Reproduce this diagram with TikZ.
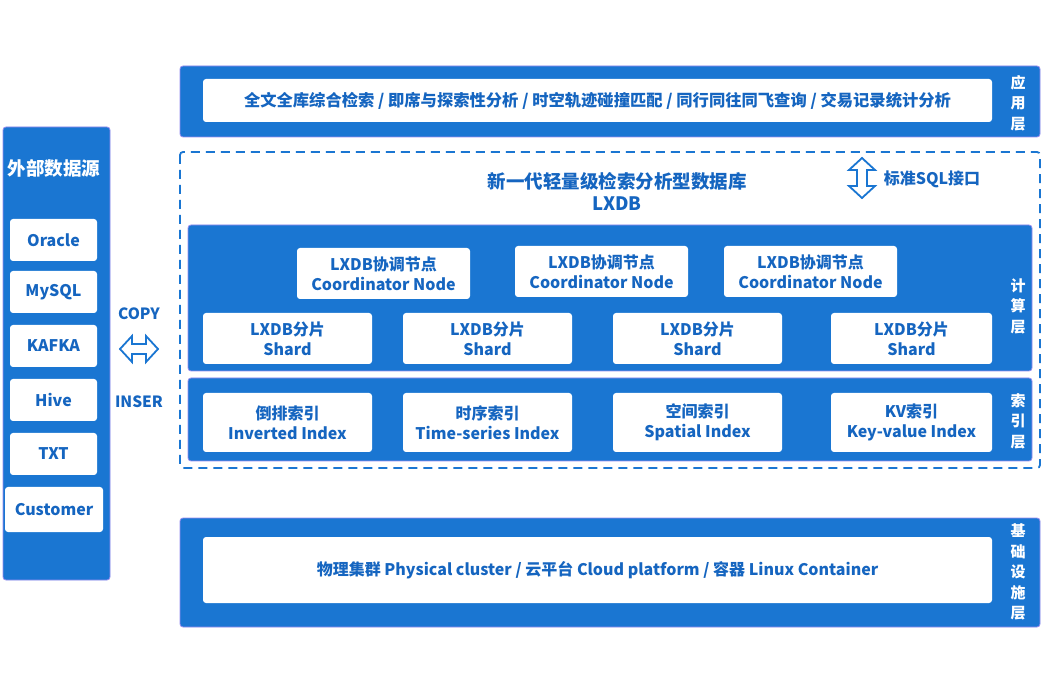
\documentclass[tikz,border=0pt]{standalone}
\usepackage{fontspec}
\setmainfont{Noto Sans CJK SC}
\definecolor{lxblue}{RGB}{26,118,210}
\definecolor{lxtext}{RGB}{21,101,192}
\definecolor{lxedge}{RGB}{150,140,240}
\begin{document}
\begin{tikzpicture}[x=1pt,y=-1pt,
  panel/.style={draw=lxedge,line width=0.8pt,fill=lxblue,rounded corners=3pt},
  wbox/.style={draw=none,fill=white,rounded corners=3pt,text=lxtext,font=\bfseries\fontsize{16}{20}\selectfont,align=center,inner sep=0pt},
  side/.style={text=white,font=\bfseries\fontsize{15}{20.5}\selectfont,align=center,inner sep=0pt},
  hollow/.style={draw=lxblue,line width=1.8pt,fill=white,line join=miter},
  btext/.style={text=lxtext,font=\bfseries\fontsize{15.5}{18}\selectfont,align=center,inner sep=0pt}]
\useasboundingbox (0,0) rectangle (1050,700);
\fill[white] (0,0) rectangle (1050,700);

% left panel
\node[panel,minimum width=107,minimum height=453,inner sep=0pt] (src) at (56.5,353.5) {};
\node[text=white,font=\bfseries\fontsize{18.5}{22}\selectfont] (srct) at (54,168) {外部数据源};
\node[wbox,minimum width=87,minimum height=42] (ora) at (53.5,240) {Oracle};
\node[wbox,minimum width=87,minimum height=42] (mys) at (53.5,292) {MySQL};
\node[wbox,minimum width=87,minimum height=42] (kaf) at (53.5,346) {KAFKA};
\node[wbox,minimum width=87,minimum height=42] (hiv) at (53.5,400) {Hive};
\node[wbox,minimum width=87,minimum height=42] (txt) at (53.5,454) {TXT};
\node[wbox,minimum width=98,minimum height=45] (cus) at (54,509.5) {Customer};

% copy / insert arrow
\node[btext] (copy) at (139,314) {COPY};
\node[btext] (inser) at (139,402) {INSER};
\draw[hollow] (120,349) -- (132,336) -- (132,344) -- (146,344) -- (146,336) -- (158,349) -- (146,362) -- (146,354) -- (132,354) -- (132,362) -- cycle;

% application layer
\node[panel,minimum width=860,minimum height=71,inner sep=0pt] (app) at (610,101.5) {};
\node[wbox,minimum width=789,minimum height=43,font=\bfseries\fontsize{16.3}{19}\selectfont] (appt) at (597.5,100.5) {全文全库综合检索 / 即席与探索性分析 / 时空轨迹碰撞匹配 / 同行同往同飞查询 / 交易记录统计分析};
\node[side] (appl) at (1018,103) {应\\用\\层};

% dashed DB frame
\draw[lxblue,line width=1.8pt,dash pattern=on 9pt off 6pt,rounded corners=3pt] (180,152) rectangle (1040,468);
\node[btext,font=\bfseries\fontsize{18.5}{22}\selectfont] (db) at (617,191) {新一代轻量级检索分析型数据库\\LXDB};
\draw[hollow] (862,158) -- (875,170) -- (867,170) -- (867,186) -- (875,186) -- (862,198) -- (849,186) -- (857,186) -- (857,170) -- (849,170) -- cycle;
\node[btext,font=\bfseries\fontsize{16}{18}\selectfont] (sql) at (932,179) {标准SQL接口};

% compute layer
\node[panel,minimum width=844,minimum height=146,inner sep=0pt] (comp) at (610,298) {};
\node[side] (compl) at (1018,306) {计\\算\\层};
\node[wbox,minimum width=173,minimum height=51] (c1) at (383.5,273.5) {LXDB协调节点\\Coordinator Node};
\node[wbox,minimum width=173,minimum height=51] (c2) at (601.5,271.5) {LXDB协调节点\\Coordinator Node};
\node[wbox,minimum width=173,minimum height=51] (c3) at (810.5,271.5) {LXDB协调节点\\Coordinator Node};
\node[wbox,minimum width=169,minimum height=51] (s1) at (287.5,338.5) {LXDB分片\\Shard};
\node[wbox,minimum width=169,minimum height=51] (s2) at (487.5,338.5) {LXDB分片\\Shard};
\node[wbox,minimum width=169,minimum height=51] (s3) at (697.5,338.5) {LXDB分片\\Shard};
\node[wbox,minimum width=161,minimum height=51] (s4) at (911.5,338.5) {LXDB分片\\Shard};

% index layer
\node[panel,minimum width=844,minimum height=83,inner sep=0pt] (idx) at (610,419.5) {};
\node[side] (idxl) at (1018,421) {索\\引\\层};
\node[wbox,minimum width=169,minimum height=59] (i1) at (287.5,422.5) {倒排索引\\Inverted Index};
\node[wbox,minimum width=169,minimum height=59] (i2) at (487.5,422.5) {时序索引\\Time-series Index};
\node[wbox,minimum width=169,minimum height=59] (i3) at (697.5,422.5) {空间索引\\Spatial Index};
\node[wbox,minimum width=161,minimum height=59] (i4) at (911.5,422.5) {KV索引\\Key-value Index};

% infrastructure layer
\node[panel,minimum width=860,minimum height=109,inner sep=0pt] (inf) at (610,572.5) {};
\node[wbox,minimum width=789,minimum height=66] (inft) at (597.5,570) {物理集群 Physical cluster / 云平台 Cloud platform / 容器 Linux Container};
\node[side] (infl) at (1018,572) {基\\础\\设\\施\\层};
\end{tikzpicture}
\end{document}
